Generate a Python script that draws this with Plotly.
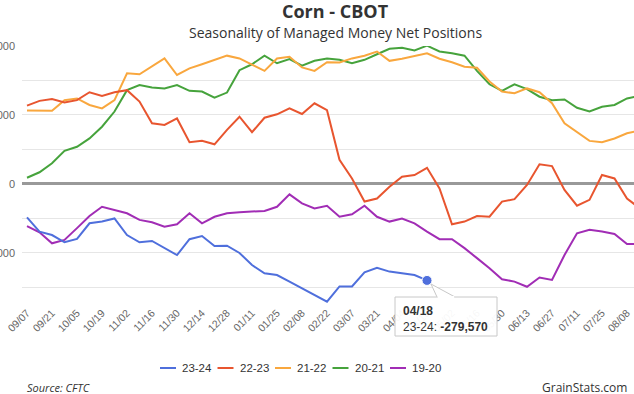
import plotly.graph_objects as go

# ---- data -----------------------------------------------------------------
weeks = ["09/07", "09/14", "09/21", "09/28", "10/05", "10/12", "10/19", "10/26",
         "11/02", "11/09", "11/16", "11/23", "11/30", "12/07", "12/14", "12/21",
         "12/28", "01/04", "01/11", "01/18", "01/25", "02/01", "02/08", "02/15",
         "02/22", "02/29", "03/07", "03/14", "03/21", "03/28", "04/04", "04/11",
         "04/18", "04/25", "05/02", "05/09", "05/16", "05/23", "05/30", "06/06",
         "06/13", "06/20", "06/27", "07/04", "07/11", "07/18", "07/25", "08/01",
         "08/08", "08/15", "08/22", "08/29"]

s_2324 = [-97000, -138000, -148000, -169000, -159000, -114000, -109000, -100000, -148000, -169000,
          -165000, -186000, -206000, -160000, -151000, -180000, -179000, -200000, -235000, -259000,
          -264000, -283000, -303000, -322000, -341000, -297000, -297000, -256000, -243000, -254000,
          -259000, -264000, -279570]
s_2223 = [227000, 241000, 246000, 236000, 243000, 266000, 255000, 266000, 272000, 239000,
          176000, 171000, 190000, 121000, 125000, 115000, 157000, 195000, 150000, 192000,
          202000, 219000, 203000, 234000, 214000, 70000, 16000, -51000, -42000, -8000,
          21000, 26000, 47000, -13000, -117000, -109000, -93000, -95000, -51000, -44000,
          -3000, 57000, 52000, -17000, -63000, -46000, 26000, 16000, -42000, -70000]
s_2122 = [213000, 212000, 212000, 243000, 248000, 229000, 219000, 243000, 321000, 318000,
          340000, 364000, 316000, 335000, 347000, 359000, 372000, 364000, 345000, 328000,
          364000, 369000, 338000, 328000, 353000, 352000, 364000, 372000, 384000, 357000,
          363000, 370000, 379000, 363000, 353000, 340000, 337000, 297000, 268000, 263000,
          277000, 266000, 234000, 176000, 151000, 125000, 121000, 132000, 147000, 155000]
s_2021 = [18000, 34000, 60000, 96000, 108000, 132000, 166000, 210000, 272000, 287000,
          280000, 277000, 287000, 270000, 268000, 250000, 265000, 330000, 347000, 372000,
          350000, 362000, 343000, 357000, 364000, 360000, 350000, 360000, 376000, 392000,
          395000, 387000, 401000, 384000, 379000, 372000, 328000, 289000, 270000, 289000,
          275000, 253000, 243000, 245000, 221000, 210000, 224000, 229000, 248000, 255000]
s_1920 = [-122000, -140000, -172000, -162000, -128000, -93000, -66000, -75000, -85000, -104000,
          -111000, -124000, -117000, -85000, -114000, -95000, -85000, -82000, -80000, -78000,
          -66000, -30000, -56000, -71000, -63000, -95000, -88000, -63000, -95000, -109000,
          -100000, -114000, -138000, -160000, -160000, -186000, -215000, -244000, -276000, -283000,
          -298000, -271000, -278000, -206000, -143000, -133000, -138000, -145000, -174000, -174000]

series_names = ["23-24", "22-23", "21-22", "20-21", "19-20"]
series_values = [s_2324, s_2223, s_2122, s_2021, s_1920]
series_colors = ["#4f6fdc", "#e8552f", "#f9a73e", "#46a33c", "#a12db5"]

tick_labels = weeks[::2]
y_ticks = [-200000, 0, 200000, 400000]

tooltip_index = 32  # 04/18 on 23-24

# ---- layout helpers (pixel -> paper) ---------------------------------------
W, H = 634, 394
ML, MR, MT, MB = 22, 0, 46, 91
PW, PH = W - ML - MR, H - MT - MB


def xp(px):
    return (px - ML) / PW


def yp(py):
    return (H - MB - py) / PH


fig = go.Figure()

# draw older seasons first so 23-24 sits on top
for name, vals, col in reversed(list(zip(series_names, series_values, series_colors))):
    fig.add_trace(go.Scatter(
        x=weeks[:len(vals)], y=vals, name=name, mode="lines",
        line=dict(color=col, width=2), showlegend=False,
        hoverinfo="skip"))

# highlighted point
fig.add_trace(go.Scatter(
    x=[weeks[tooltip_index]], y=[s_2324[tooltip_index]], mode="markers",
    marker=dict(color=series_colors[0], size=10, line=dict(color="#ffffff", width=1)),
    showlegend=False, hoverinfo="skip"))

fig.update_xaxes(
    type="category", categoryorder="array", categoryarray=weeks,
    range=[-0.4, 48.56], showgrid=False, zeroline=False, showline=False,
    tickmode="array", tickvals=tick_labels, ticktext=tick_labels,
    tickangle=-45, ticks="", ticklabelstandoff=1,
    tickfont=dict(family="Liberation Sans, Arial", size=10.5, color="#666666"),
    automargin=False)

fig.update_yaxes(
    range=[-345000, 400000], tickmode="array", tickvals=y_ticks,
    tickformat=",", showgrid=True, gridcolor="#e6e6e6", gridwidth=1,
    minor=dict(dtick=100000, tick0=0, showgrid=True, gridcolor="#e6e6e6", gridwidth=1),
    zeroline=True, zerolinecolor="#999999", zerolinewidth=3,
    showline=False, ticks="", ticklabelstandoff=6,
    tickfont=dict(family="Liberation Sans, Arial", size=11, color="#666666"),
    automargin=False)

shapes = []
annotations = []

# title + subtitle
annotations.append(dict(text="<b>Corn - CBOT</b>", xref="paper", yref="paper",
                        x=xp(335), y=yp(10.5), xanchor="center", yanchor="middle",
                        showarrow=False,
                        font=dict(family="Open Sans", size=18, color="#333333")))
annotations.append(dict(text="Seasonality of Managed Money Net Positions", xref="paper", yref="paper",
                        x=xp(335), y=yp(33), xanchor="center", yanchor="middle",
                        showarrow=False,
                        font=dict(family="Open Sans", size=14, color="#333333")))

# legend (manual, Highcharts style)
leg_y = 368
for k, (name, col) in enumerate(zip(series_names, series_colors)):
    tx = 180 + 57.5 * k
    shapes.append(dict(type="line", xref="paper", yref="paper",
                       x0=xp(tx - 20), x1=xp(tx - 4), y0=yp(leg_y), y1=yp(leg_y),
                       line=dict(color=col, width=2)))
    annotations.append(dict(text=name, xref="paper", yref="paper", x=xp(tx), y=yp(leg_y),
                            xanchor="left", yanchor="middle", showarrow=False,
                            font=dict(family="Liberation Sans, Arial", size=11.5, color="#333333")))

# credits
annotations.append(dict(text="<i>Source: CFTC</i>", xref="paper", yref="paper", x=xp(25), y=yp(387),
                        xanchor="left", yanchor="middle", showarrow=False,
                        font=dict(family="Open Sans", size=11, color="#333333")))
annotations.append(dict(text="GrainStats.com", xref="paper", yref="paper", x=xp(540), y=yp(387),
                        xanchor="left", yanchor="middle", showarrow=False,
                        font=dict(family="Open Sans", size=12, color="#333333")))

# tooltip callout
bx0, bx1, by0, by1 = 395, 497, 297, 336
shapes.append(dict(type="rect", xref="paper", yref="paper",
                   x0=xp(bx0), x1=xp(bx1), y0=yp(by1), y1=yp(by0),
                   fillcolor="rgba(255,255,255,0.95)", line=dict(color="#c8c8c8", width=1),
                   layer="above"))
shapes.append(dict(type="path", xref="paper", yref="paper",
                   path=f"M {xp(437)},{yp(by0)} L {xp(431)},{yp(284)} L {xp(455)},{yp(by0)} Z",
                   fillcolor="#ffffff", line=dict(color="#c8c8c8", width=1), layer="above"))
shapes.append(dict(type="line", xref="paper", yref="paper",
                   x0=xp(437.5), x1=xp(454.5), y0=yp(by0), y1=yp(by0),
                   line=dict(color="#ffffff", width=2), layer="above"))
annotations.append(dict(
    text=f"<b>{weeks[tooltip_index]}</b><br>{series_names[0]}: <b>{s_2324[tooltip_index]:,}</b>",
    xref="paper", yref="paper", x=xp(401), y=yp(302), xanchor="left", yanchor="top",
    align="left", showarrow=False,
    font=dict(family="Liberation Sans, Arial", size=12, color="#333333")))

fig.update_layout(
    width=W, height=H, margin=dict(l=ML, r=MR, t=MT, b=MB, autoexpand=False),
    paper_bgcolor="#ffffff", plot_bgcolor="#ffffff", showlegend=False,
    shapes=shapes, annotations=annotations, hovermode=False)

fig.write_html("out.html", config={"displayModeBar": False, "staticPlot": True},
               post_script="document.body.style.margin='0';")
